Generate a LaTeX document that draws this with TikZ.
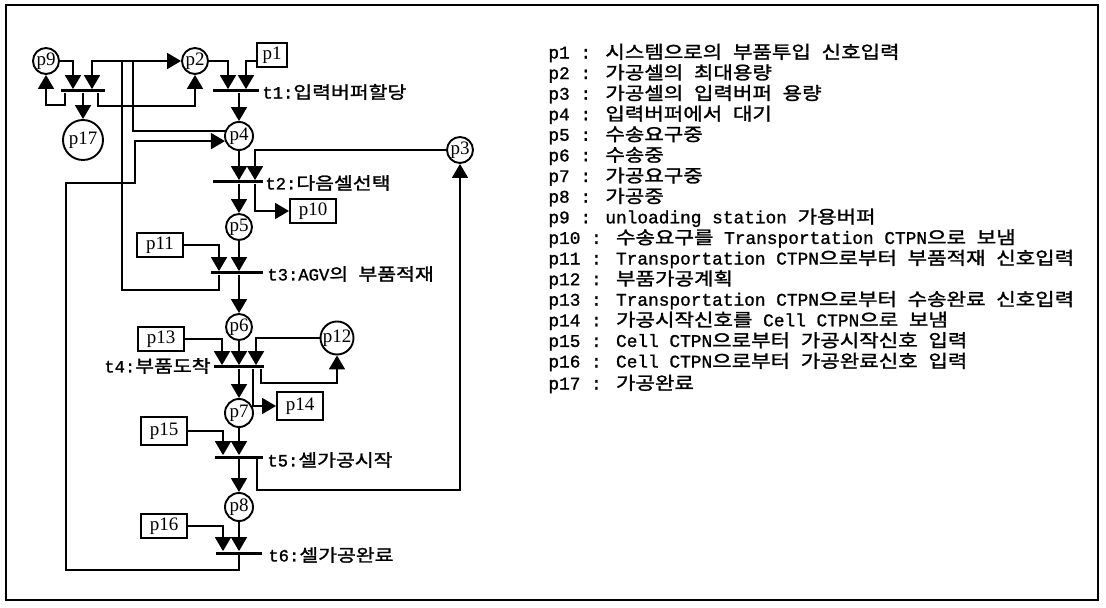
\documentclass[tikz,border=0pt]{standalone}
\usepackage{fontspec}
\setmainfont{Liberation Serif}
\newfontfamily\legmono{Liberation Mono}[FakeBold=1.2]
\newfontfamily\korfnt{Noto Sans CJK KR}[FakeStretch=1.19,FakeBold=1.5]
\newcommand{\korx}[1]{{\korfnt #1}}
\usetikzlibrary{arrows.meta,calc}
\begin{document}
\begin{tikzpicture}[x=0.5pt,y=-0.5pt,
  place/.style={circle,draw,line width=0.95pt,minimum size=13pt,inner sep=0pt,font=\fontsize{9.5}{10}\selectfont},
  sig/.style={rectangle,draw,line width=1pt,minimum width=23pt,minimum height=12pt,inner sep=0pt,font=\fontsize{9.5}{10}\selectfont},
  tbar/.style={rectangle,fill=black,draw=none,inner sep=0pt,minimum height=1.5pt},
  arc/.style={line width=0.9pt},
  tip/.style={-{Triangle[width=8pt,length=7pt]}},
  tlab/.style={inner sep=0pt,font=\legmono\fontsize{8.6}{10}\selectfont},
  leg/.style={anchor=west,inner sep=0pt,font=\legmono\fontsize{8.9}{10}\selectfont},
  frame/.style={line width=1.1pt}]
\useasboundingbox (0,0) rectangle (1106,608);
\draw[frame] (6,5) rectangle (1098,600);

% places
\node[place] (p9) at (46,61) {p9};
\node[place] (p2) at (195,61) {p2};
\node[place,minimum size=20pt] (p17) at (83,140) {p17};
\node[place,minimum size=14pt] (p4) at (239,136) {p4};
\node[place] (p3) at (460,150) {p3};
\node[place] (p5) at (239,227) {p5};
\node[place] (p6) at (239,327) {p6};
\node[place] (p12) at (337,338) {p12};
\node[place,minimum size=14pt] (p7) at (239,413) {p7};
\node[place,minimum size=14pt] (p8) at (239,507) {p8};

% signal boxes
\node[sig,minimum width=15pt] (p1) at (272,55) {p1};
\node[sig] (p10) at (313,211) {p10};
\node[sig] (p11) at (160,245) {p11};
\node[sig] (p13) at (161,339) {p13};
\node[sig,minimum height=14pt] (p14) at (300,406) {p14};
\node[sig,minimum height=14pt] (p15) at (164,431) {p15};
\node[sig] (p16) at (164,526) {p16};

% transitions
\node[tbar,minimum width=22pt] (t0) at (83,91) {};
\node[tbar,minimum width=23pt] (t1) at (236,91) {};
\node[tbar,minimum width=25pt] (t2) at (238,182) {};
\node[tbar,minimum width=26pt] (t3) at (237,273) {};
\node[tbar,minimum width=25pt] (t4) at (239,367) {};
\node[tbar,minimum width=24pt] (t5) at (239,457) {};
\node[tbar,minimum width=23pt] (t6) at (239,553) {};

% transition labels
\node[tlab,anchor=west] (lt1) at (262,92) {t1:\korx{입력버퍼할당}};
\node[tlab,anchor=west] (lt2) at (265,183) {t2:\korx{다음셀선택}};
\node[tlab,anchor=west] (lt3) at (267,274) {t3:AGV\korx{의} \korx{부품적재}};
\node[tlab,anchor=east] (lt4) at (211,366) {t4:\korx{부품도착}};
\node[tlab,anchor=west] (lt5) at (267,460) {t5:\korx{셀가공시작}};
\node[tlab,anchor=west] (lt6) at (268,555) {t6:\korx{셀가공완료}};

% helper corners
\coordinate (m1) at (133,61);
\coordinate (k1) at (122,290);
\coordinate (j1) at (46,105);
\coordinate (j2) at (195,106);
\coordinate (l1) at (66,570);
\coordinate (l2) at (135,183);
\coordinate (n1) at (337,383);
\coordinate (q1) at (460,490);

% t0
\draw[arc,tip] (p9.east) -| ($(t0.north)+(-10,0)$);
\draw[arc,tip] (p4.160) -| (m1) -| ($(t0.north)+(9,0)$);
\draw[arc,tip] ($(t0.south)+(-18,0)$) |- (j1) -- (p9.south);
\draw[arc,tip] (t0.south) -- (p17.north);
\draw[arc,tip] ($(t0.south)+(15,0)$) |- (j2) -- (p2.south);
% t1
\draw[arc,tip] (p2.east) -| ($(t1.north)+(-8,0)$);
\draw[arc,tip] ($(p1.west)+(0,6)$) -| ($(t1.north)+(10,0)$);
\draw[arc,tip] (t1.south -| p4.north) -- (p4.north);
% t2
\draw[arc,tip] (p4.south) -- (p4.south |- t2.north);
\draw[arc,tip] (p3.west) -| ($(t2.north)+(17,0)$);
\draw[arc,tip] (t2.south -| p5.north) -- (p5.north);
\draw[arc,tip] ($(t2.south)+(17,0)$) |- (p10.west);
% t3
\draw[arc,tip] (p11.east) -| ($(t3.north)+(-18,0)$);
\draw[arc,tip] (p5.south) -- (p5.south |- t3.north);
\draw[arc,tip] (t3.south -| p6.north) -- (p6.north);
\draw[arc,tip] ($(t3.south)+(-18,0)$) |- (k1) |- (p2.west);
% t4
\draw[arc,tip] (p13.east) -| ($(t4.north)+(-17,0)$);
\draw[arc,tip] (p6.south) -- (p6.south |- t4.north);
\draw[arc,tip] (p12.west) -| ($(t4.north)+(17,0)$);
\draw[arc,tip] (t4.south -| p7.north) -- (p7.north);
\draw[arc,tip] ($(t4.south)+(14,0)$) |- (p14.west);
\draw[arc,tip] ($(t4.south)+(22,0)$) |- (n1) -- (p12.south);
% t5
\draw[arc,tip] (p15.east) -| ($(t5.north)+(-16,0)$);
\draw[arc,tip] (p7.south) -- (p7.south |- t5.north);
\draw[arc,tip] (t5.south -| p8.north) -- (p8.north);
\draw[arc,tip] ($(t5.south)+(18,0)$) |- (q1) -- (p3.south);
% t6
\draw[arc,tip] (p16.east) -| ($(t6.north)+(-16,0)$);
\draw[arc,tip] (p8.south) -- (p8.south |- t6.north);
\draw[arc,tip] (t6.south -| p8.south) |- (l1) |- (l2) |- (p4.200);

% legend
\node[leg] (g1) at (548,53) {p1 : \korx{시스템으로의} \korx{부품투입} \korx{신호입력}};
\node[leg] (g2) at (548,73.6) {p2 : \korx{가공셀의} \korx{최대용량}};
\node[leg] (g3) at (548,94.2) {p3 : \korx{가공셀의} \korx{입력버퍼} \korx{용량}};
\node[leg] (g4) at (548,114.8) {p4 : \korx{입력버퍼에서} \korx{대기}};
\node[leg] (g5) at (548,135.4) {p5 : \korx{수송요구중}};
\node[leg] (g6) at (548,156) {p6 : \korx{수송중}};
\node[leg] (g7) at (548,176.6) {p7 : \korx{가공요구중}};
\node[leg] (g8) at (548,197.2) {p8 : \korx{가공중}};
\node[leg] (g9) at (548,217.8) {p9 : unloading station \korx{가용버퍼}};
\node[leg] (g10) at (548,238.4) {p10 : \korx{수송요구를} Transportation CTPN\korx{으로} \korx{보냄}};
\node[leg] (g11) at (548,259) {p11 : Transportation CTPN\korx{으로부터} \korx{부품적재} \korx{신호입력}};
\node[leg] (g12) at (548,279.6) {p12 : \korx{부품가공계획}};
\node[leg] (g13) at (548,300.2) {p13 : Transportation CTPN\korx{으로부터} \korx{수송완료} \korx{신호입력}};
\node[leg] (g14) at (548,320.8) {p14 : \korx{가공시작신호를} Cell CTPN\korx{으로} \korx{보냄}};
\node[leg] (g15) at (548,341.4) {p15 : Cell CTPN\korx{으로부터} \korx{가공시작신호} \korx{입력}};
\node[leg] (g16) at (548,362) {p16 : Cell CTPN\korx{으로부터} \korx{가공완료신호} \korx{입력}};
\node[leg] (g17) at (548,384) {p17 : \korx{가공완료}};
\end{tikzpicture}
\end{document}
